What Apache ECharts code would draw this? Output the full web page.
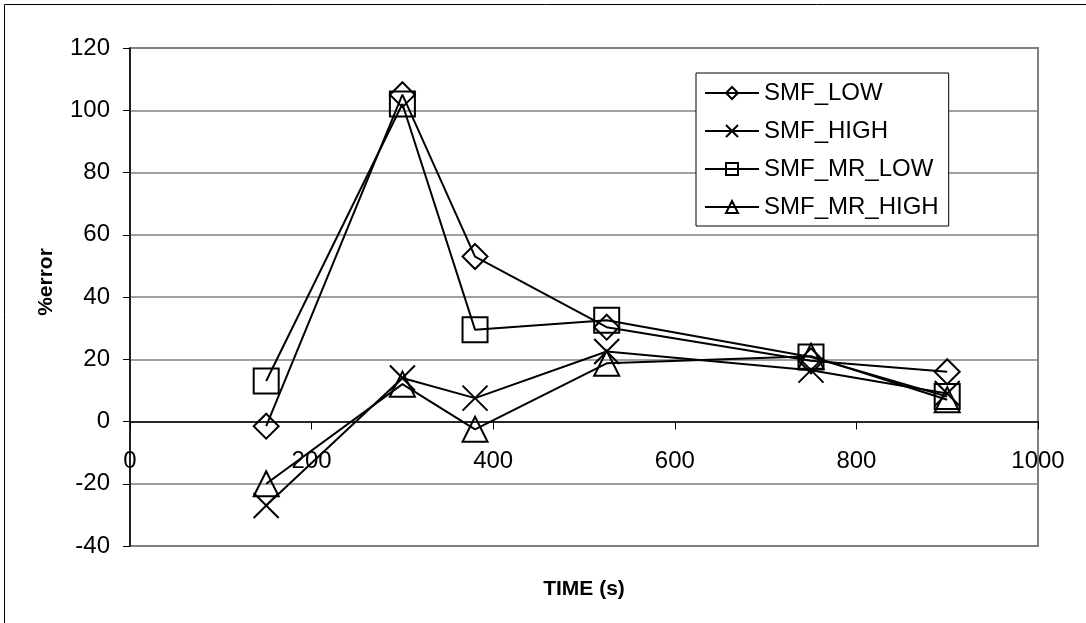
<!DOCTYPE html>
<html>
<head>
<meta charset="utf-8">
<script src="https://cdn.jsdelivr.net/npm/echarts@6/dist/echarts.min.js"></script>
<style>
html,body{margin:0;padding:0;background:#fff;}
#chart{width:1086px;height:623px;}
</style>
</head>
<body>
<div id="chart"></div>
<script>
// Data
var times = [150, 300, 380, 525, 750, 900];
var smfLow = [-1.5, 105, 53, 30.3, 19.5, 16];
var smfHigh = [-27, 14, 7.5, 22.5, 16.5, 9];
var smfMrLow = [13, 102, 29.5, 32.5, 20.7, 8];
var smfMrHigh = [-20, 12, -2.5, 18.7, 21, 7];
var seriesNames = ['SMF_LOW', 'SMF_HIGH', 'SMF_MR_LOW', 'SMF_MR_HIGH'];
var xTicks = {min: 0, max: 1000, interval: 200};
var yTicks = {min: -40, max: 120, interval: 20};

var FONT = "'Liberation Sans', Arial, sans-serif";
var symbols = [
  'path://M5,0L10,5L5,10L0,5Z',
  'path://M0,0L10,10M10,0L0,10',
  'path://M0,0L10,0L10,10L0,10Z',
  'path://M5,0L10,10L0,10Z'
];
var values = [smfLow, smfHigh, smfMrLow, smfMrHigh];

function pairs(v) {
  return times.map(function (t, i) { return [t, v[i]]; });
}

var series = seriesNames.map(function (name, k) {
  return {
    name: name,
    type: 'line',
    data: pairs(values[k]),
    symbol: symbols[k],
    symbolSize: 25,
    symbolKeepAspect: true,
    lineStyle: {color: '#000', width: 2},
    itemStyle: {color: 'rgba(0,0,0,0)', borderColor: '#000', borderWidth: 2},
    emphasis: {disabled: true}
  };
});

var chart = echarts.init(document.getElementById('chart'), null, {renderer: 'canvas'});
chart.setOption({
  animation: false,
  backgroundColor: '#fff',
  textStyle: {fontFamily: FONT},
  graphic: [{
    type: 'rect',
    shape: {x: 4.5, y: 4.5, width: 1100, height: 700},
    style: {fill: 'none', stroke: '#000', lineWidth: 1},
    silent: true,
    z: -10
  }],
  grid: {
    left: 130, right: 48, top: 48, bottom: 77,
    containLabel: false,
    outerBoundsMode: 'none',
    show: true, borderColor: '#808080', borderWidth: 2, backgroundColor: '#fff'
  },
  legend: {
    orient: 'vertical',
    left: 696, top: 73,
    itemWidth: 54, itemHeight: 15, itemGap: 14,
    padding: [8, 10, 7, 8],
    borderColor: '#000', borderWidth: 1, backgroundColor: '#fff',
    textStyle: {fontSize: 24, color: '#000', fontFamily: FONT},
    data: seriesNames
  },
  xAxis: {
    type: 'value',
    min: xTicks.min, max: xTicks.max, interval: xTicks.interval,
    name: 'TIME (s)',
    nameLocation: 'middle',
    nameGap: 33,
    nameTextStyle: {fontSize: 21, fontWeight: 'bold', color: '#000', fontFamily: FONT},
    axisLine: {onZero: true, lineStyle: {color: '#000', width: 1.5}},
    axisTick: {show: true, length: 8, lineStyle: {color: '#000'}},
    axisLabel: {fontSize: 24, color: '#000', margin: -97, fontFamily: FONT,
      formatter: function (v) { return String(v); }},
    splitLine: {show: false}
  },
  yAxis: {
    type: 'value',
    min: yTicks.min, max: yTicks.max, interval: yTicks.interval,
    name: '%error',
    nameLocation: 'middle',
    nameGap: 73,
    nameRotate: 90,
    nameTextStyle: {fontSize: 21, fontWeight: 'bold', color: '#000', fontFamily: FONT, padding: [0, 0, 0, 30]},
    axisLine: {show: true, onZero: false, lineStyle: {color: '#000', width: 1.5}},
    axisTick: {show: true, length: 7, lineStyle: {color: '#000'}},
    axisLabel: {fontSize: 24, color: '#000', margin: 20, fontFamily: FONT,
      formatter: function (v) { return String(v); }},
    splitLine: {show: true, lineStyle: {color: '#808080', width: 1.5}}
  },
  series: series
});
</script>
</body>
</html>
